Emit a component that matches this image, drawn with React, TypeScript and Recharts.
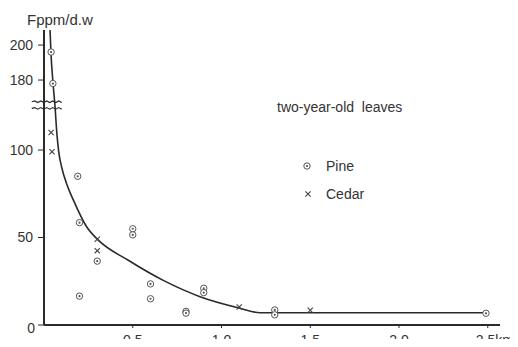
import { ComposedChart, Line, Scatter, XAxis, YAxis, ReferenceLine, Legend } from 'recharts';

// axis is broken between 125 and 165 ppm
const BREAK_LOW = 125;
const BREAK_GAP = 40;

const pineKm = [0.04, 0.05, 0.19, 0.2, 0.2, 0.3, 0.5, 0.5, 0.6, 0.6, 0.8, 0.8, 0.9, 0.9, 1.3, 1.3, 2.49];
const pinePpm = [196, 178, 85, 58.5, 16.5, 36.5, 55, 51.5, 23.5, 15, 7.8, 6.8, 21, 18.5, 8.6, 5.8, 6.7];

const cedarKm = [0.04, 0.045, 0.3, 0.3, 1.1, 1.5];
const cedarPpm = [110, 99, 49, 42.5, 10.3, 8.4];

const curveKm = [0.034, 0.039, 0.051, 0.062, 0.072, 0.083, 0.1, 0.13, 0.165, 0.241, 0.306, 0.475, 0.672, 0.879, 1.104, 1.217, 2.494];
const curvePpm = [208.6, 196, 178, 125, 110, 99, 90, 80, 71.5, 56, 48.5, 37, 25.5, 16.2, 9.6, 7, 7];

const xTicks = [0.5, 1, 1.5, 2, 2.5];
const yTicks = [0, 50, 100, 180, 200];

const toAxis = (v: number) => (v > BREAK_LOW ? v - BREAK_GAP : v);
const fromAxis = (v: number) => (v > BREAK_LOW ? v + BREAK_GAP : v);

const pine = pineKm.map((x, i) => ({ x, y: toAxis(pinePpm[i]) }));
const cedar = cedarKm.map((x, i) => ({ x, y: toAxis(cedarPpm[i]) }));
const curve = curveKm.map((x, i) => ({ x, y: toAxis(curvePpm[i]) }));

const FONT = '"Liberation Sans", Arial, sans-serif';
const INK = '#2a2a2a';
const TEXT = '#333';

function PineDot({ cx, cy }: any) {
  return (
    <g>
      <circle cx={cx} cy={cy} r={3.2} fill="#fff" stroke="#555" strokeWidth={1} />
      <circle cx={cx} cy={cy} r={1.1} fill="#555" />
    </g>
  );
}

function CedarDot({ cx, cy }: any) {
  const s = 2.6;
  return (
    <g stroke="#444" strokeWidth={1.1}>
      <line x1={cx - s} y1={cy - s} x2={cx + s} y2={cy + s} />
      <line x1={cx - s} y1={cy + s} x2={cx + s} y2={cy - s} />
    </g>
  );
}

function XTick({ x, y, payload }: any) {
  const last = payload.value === 2.5;
  return (
    <text x={x} y={y} dy={13} dx={last ? -12 : 0} textAnchor={last ? 'start' : 'middle'} fill={TEXT} fontSize={14} fontFamily={FONT}>
      {payload.value.toFixed(1) + (last ? 'km' : '')}
    </text>
  );
}

function YTick({ x, y, payload }: any) {
  const zero = payload.value === 0;
  return (
    <text x={x} y={y} dy={zero ? '0.6em' : '0.355em'} dx={zero ? 2 : 0} textAnchor="end" fill={TEXT} fontSize={14} fontFamily={FONT}>
      {fromAxis(payload.value)}
    </text>
  );
}

// wavy break mark across the y axis
function BreakMark({ x1, y1, x2 }: any) {
  const steps = 10;
  const w = (x2 - x1) / steps;
  let d = `M${x1},${y1}`;
  for (let i = 1; i <= steps; i++) {
    d += ` L${x1 + i * w},${y1 + (i % 2 ? -0.8 : 0.8)}`;
  }
  return <path d={d} stroke={INK} strokeWidth={1.2} fill="none" />;
}

function LegendBox() {
  const row = { display: 'flex', alignItems: 'center', height: 28 } as const;
  return (
    <div style={{ fontFamily: FONT, fontSize: 14, color: TEXT }}>
      <div style={row}>
        <svg width={26} height={14}><PineDot cx={7} cy={7} /></svg>
        <span>Pine</span>
      </div>
      <div style={row}>
        <svg width={26} height={14}><CedarDot cx={8} cy={7} /></svg>
        <span>Cedar</span>
      </div>
    </div>
  );
}

export default function App() {
  return (
    <div style={{ position: 'relative', width: 518, height: 347, margin: -8, background: '#fff' }}>
      <div style={{ position: 'absolute', left: 27, top: 11, fontFamily: FONT, fontSize: 15, color: TEXT, lineHeight: '18px' }}>
        Fppm/d.w
      </div>
      <div style={{ position: 'absolute', left: 277, top: 98, fontFamily: FONT, fontSize: 14, color: TEXT, lineHeight: '18px', whiteSpace: 'pre' }}>
        two-year-old  leaves
      </div>
      <ComposedChart width={518} height={347} margin={{ top: 30, right: 18, bottom: 0, left: 0 }}>
        <XAxis
          type="number"
          dataKey="x"
          domain={[0, 2.569]}
          ticks={xTicks}
          allowDataOverflow
          height={22}
          tickSize={3}
          tickMargin={4}
          axisLine={{ stroke: INK, strokeWidth: 2 }}
          tickLine={{ stroke: INK }}
          tick={<XTick />}
        />
        <YAxis
          type="number"
          dataKey="y"
          domain={[0, 168.6]}
          ticks={yTicks.map(toAxis)}
          allowDataOverflow
          width={44}
          tickSize={6}
          tickMargin={5}
          axisLine={{ stroke: INK, strokeWidth: 2 }}
          tickLine={{ stroke: INK }}
          tick={<YTick />}
        />
        <ReferenceLine segment={[{ x: -0.069, y: 127.6 }, { x: 0.1, y: 127.6 }]} ifOverflow="visible" shape={<BreakMark />} />
        <ReferenceLine segment={[{ x: -0.069, y: 123.8 }, { x: 0.1, y: 123.8 }]} ifOverflow="visible" shape={<BreakMark />} />
        <Line data={curve} dataKey="y" type="monotone" stroke={INK} strokeWidth={1.6} dot={false} legendType="none" isAnimationActive={false} />
        <Scatter name="Pine" data={pine} dataKey="y" shape={<PineDot />} isAnimationActive={false} />
        <Scatter name="Cedar" data={cedar} dataKey="y" shape={<CedarDot />} isAnimationActive={false} />
        <Legend
          layout="vertical"
          align="center"
          verticalAlign="middle"
          content={<LegendBox />}
          wrapperStyle={{ left: 300, top: 152, width: 120 }}
        />
      </ComposedChart>
    </div>
  );
}
